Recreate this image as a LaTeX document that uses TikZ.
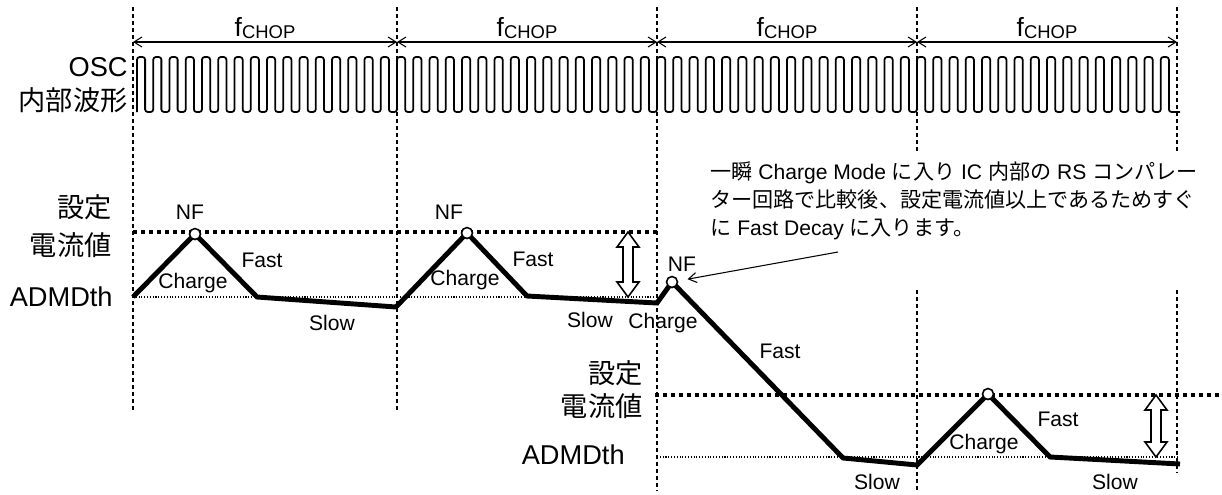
\documentclass[tikz,border=0pt]{standalone}
\usepackage{fontspec}
\setmainfont{Liberation Sans}
\newfontfamily\jp{Noto Sans CJK JP}
\usetikzlibrary{arrows.meta}

\tikzset{
  tgrid/.style={line width=0.6pt, dash pattern=on 0.08cm off 0.06cm},
  chop/.style={line width=0.6pt, {Straight Barb[length=1.6mm,width=2mm]}-{Straight Barb[length=1.6mm,width=2mm]}},
  oscwave/.style={line width=1pt, rounded corners=1.5pt},
  setline/.style={line width=2.3pt, dash pattern=on 0.08cm off 0.08cm},
  thline/.style={line width=0.6pt, densely dotted},
  current/.style={line width=2.8pt},
  nfdot/.style={circle, draw, fill=white, line width=0.9pt, minimum size=0.22cm, inner sep=0pt},
  big/.style={font=\fontsize{15.5}{18}\selectfont, inner sep=0pt},
  small/.style={font=\fontsize{12}{14}\selectfont, inner sep=0pt},
}

% hollow double arrow: x, y top, y bottom
\newcommand{\gaparrow}[3]{%
  \draw[fill=white, line width=0.9pt] (#1,#2) -- ({#1+11},{#2+15}) -- ({#1+5},{#2+15})
    -- ({#1+5},{#3-15}) -- ({#1+11},{#3-15}) -- (#1,#3) -- ({#1-11},{#3-15})
    -- ({#1-5},{#3-15}) -- ({#1-5},{#2+15}) -- ({#1-11},{#2+15}) -- cycle;}
\newcommand{\fchop}{f\raisebox{-1.2pt}{\fontsize{10.5}{12}\selectfont CHOP}}

\begin{document}
\begin{tikzpicture}[x=0.02cm, y=-0.02cm]
  \useasboundingbox (0,0) rectangle (1222,494);

  % time grid
  \draw[tgrid] (133,7) -- (133,412);
  \draw[tgrid] (397,7) -- (397,412);
  \draw[tgrid] (657,7) -- (657,490);
  \draw[tgrid] (917,7) -- (917,153);
  \draw[tgrid] (917,290) -- (917,490);
  \draw[tgrid] (1177,7) -- (1177,153);
  \draw[tgrid] (1177,290) -- (1177,472);

  % chopping periods
  \coordinate (t0) at (133,42);
  \coordinate (t1) at (397,42);
  \coordinate (t2) at (657,42);
  \coordinate (t3) at (917,42);
  \coordinate (t4) at (1177,42);
  \draw[chop] (t0) -- (t1);
  \draw[chop] (t1) -- (t2);
  \draw[chop] (t2) -- (t3);
  \draw[chop] (t3) -- (t4);
  \node[font=\fontsize{15}{18}\selectfont, anchor=base, inner sep=0pt] (chop1) at (265,36) {\fchop};
  \node[font=\fontsize{15}{18}\selectfont, anchor=base, inner sep=0pt] (chop2) at (527,36) {\fchop};
  \node[font=\fontsize{15}{18}\selectfont, anchor=base, inner sep=0pt] (chop3) at (787,36) {\fchop};
  \node[font=\fontsize{15}{18}\selectfont, anchor=base, inner sep=0pt] (chop4) at (1047,36) {\fchop};

  % OSC
  \node[big, anchor=east] (osc) at (128,67) {OSC};
  \node[big, anchor=east] (oscj) at (128,100) {\jp 内部波形};
  \draw[oscwave] (137,112) \foreach \i in {0,...,63}{ -- ++(0,-55) -- ++(8.125,0) -- ++(0,55) -- ++(8.125,0) } -- ++(3,0);

  % upper levels
  \node[big, anchor=east] (set1a) at (112,207) {\jp 設定};
  \node[big, anchor=east] (set1b) at (112,245) {\jp 電流値};
  \node[big, anchor=east] (adm1) at (113,297) {ADMDth};
  \draw[setline] (133,232) -- (657,232);
  \draw[thline] (133,297) -- (657,297);

  % lower levels
  \node[big, anchor=east] (set2a) at (643,373) {\jp 設定};
  \node[big, anchor=east] (set2b) at (643,406) {\jp 電流値};
  \node[big, anchor=east] (adm2) at (625,455) {ADMDth};
  \draw[setline] (655,395) -- (1222,395);
  \draw[thline] (657,457) -- (1178,457);

  % coil current
  \coordinate (c0) at (133,297);
  \coordinate (c1) at (195,234);
  \coordinate (c2) at (257,297);
  \coordinate (c3) at (396,307);
  \coordinate (c4) at (467,233);
  \coordinate (c5) at (527,296);
  \coordinate (c6) at (657,303);
  \coordinate (c7) at (672,282);
  \coordinate (c8) at (843,458);
  \coordinate (c9) at (917,465);
  \coordinate (c10) at (988,394);
  \coordinate (c11) at (1050,457);
  \coordinate (c12) at (1180,464);
  \draw[current] (c0) \foreach \k in {1,...,12}{ -- (c\k)};
  \node[nfdot] (nf1) at (c1) {};
  \node[nfdot] (nf2) at (c4) {};
  \node[nfdot] (nf3) at (c7) {};
  \node[nfdot] (nf4) at (c10) {};

  % mode labels
  \node[small] (nfl1) at (190,212) {NF};
  \node[small] (nfl2) at (449,212) {NF};
  \node[small] (nfl3) at (682,264) {NF};
  \node[small] (chg1) at (193,283) {Charge};
  \node[small] (chg2) at (465,280) {Charge};
  \node[small] (chg3) at (663,323) {Charge};
  \node[small] (chg4) at (984,444) {Charge};
  \node[small] (fst1) at (262,260) {Fast};
  \node[small] (fst2) at (533,259) {Fast};
  \node[small] (fst3) at (780,351) {Fast};
  \node[small] (fst4) at (1058,419) {Fast};
  \node[small] (slw1) at (332,323) {Slow};
  \node[small] (slw2) at (590,320) {Slow};
  \node[small] (slw3) at (877,482) {Slow};
  \node[small] (slw4) at (1115,482) {Slow};

  % gap between limit and threshold
  \gaparrow{628}{232}{297}
  \gaparrow{1156}{395}{457}

  % note
  \node[small, anchor=base west] (note1) at (710,179) {{\jp 一瞬} Charge Mode {\jp に入り} IC {\jp 内部の} RS {\jp コンパレー}};
  \node[small, anchor=base west] (note2) at (710,207) {\jp ター回路で比較後、設定電流値以上であるためすぐ};
  \node[small, anchor=base west] (note3) at (710,235) {{\jp に} Fast Decay {\jp に入ります。}};
  \coordinate (notetail) at (838,252);
  \draw[line width=0.6pt, -{Straight Barb[length=1.6mm,width=2mm]}, shorten >=0.19cm] (notetail) -- (nf3);
\end{tikzpicture}
\end{document}
